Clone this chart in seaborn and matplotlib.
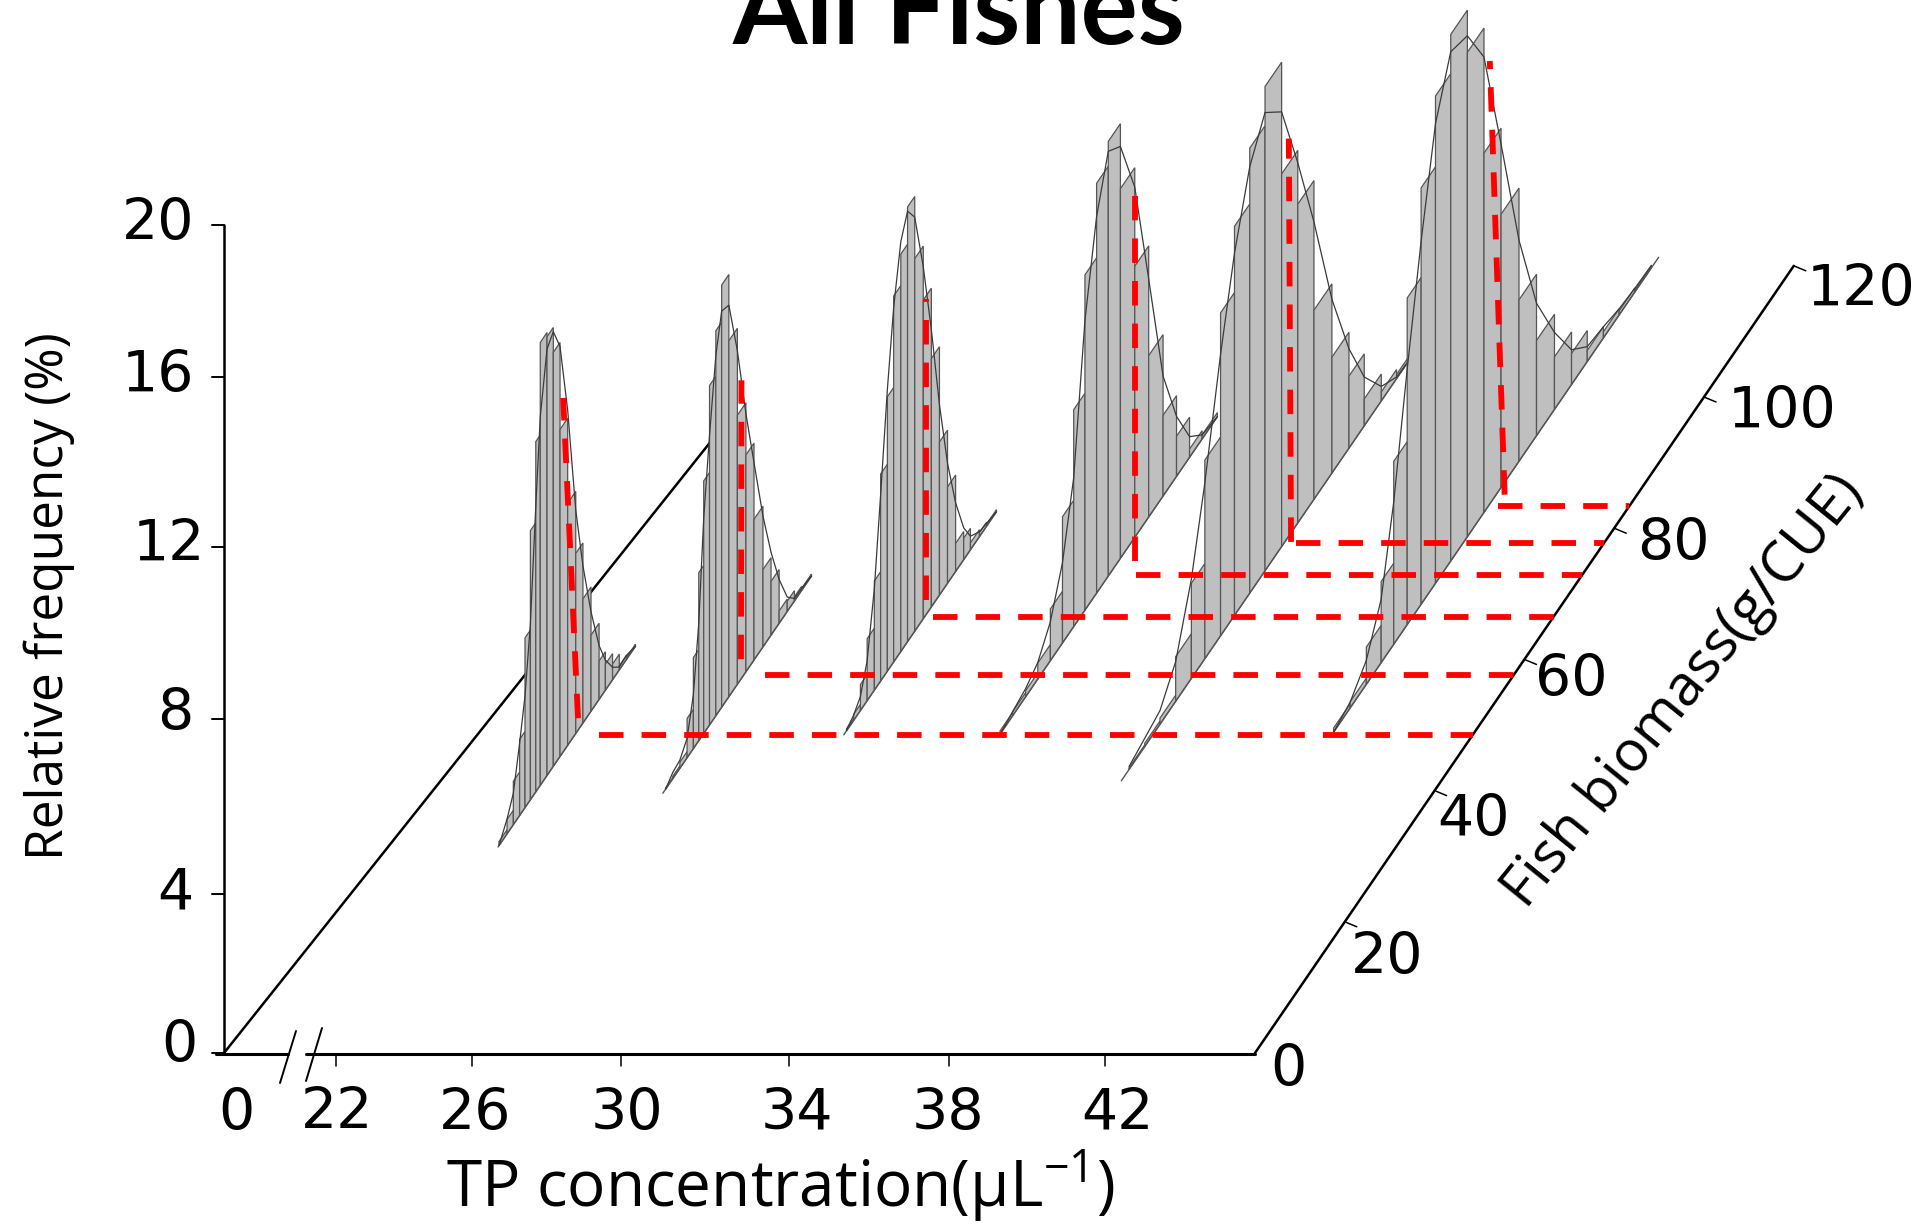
import numpy as np
import pandas as pd
import matplotlib
matplotlib.use("Agg")
import matplotlib.pyplot as plt
import seaborn as sns

# one ridge per TP level
RIDGE_TP = [22.63, 26.35, 30.12, 33.83, 37.65, 42.24]
BASE_START = [31.4, 39.6, 48.5, 48.2, 41.5, 48.9]
BASE_END = [62.0, 72.7, 82.5, 97.0, 105.8, 121.3]

EDGES_1 = [31.6, 33.4, 34.8, 36.2, 37.4, 38.6, 39.8, 40.8, 42.3, 43.7, 45.2, 46.9, 48.7, 50.3, 52.1, 53.9, 55.3, 56.9, 58.4, 60.0, 62.0]
FREQ_1 = [0.1, 0.35, 1.05, 1.84, 4.1, 6.5, 8.46, 10.7, 10.6, 10.0, 7.9, 5.85, 4.35, 3.0, 1.84, 0.93, 0.63, 0.38, 0.1, 0.05]
FIT_1 = [0, 0.36, 0.76, 1.75, 2.7, 4.25, 6.9, 8.9, 10.3, 10.5, 9.9, 8.1, 5.4, 3.8, 2.4, 1.3, 0.73, 0.3, 0.07, 0.1, 0]

EDGES_2 = [40.2, 41.8, 43.4, 45.0, 46.4, 47.6, 48.7, 50.0, 51.4, 52.7, 54.3, 56.2, 58.1, 59.9, 61.9, 63.7, 65.5, 67.3, 68.9, 70.5, 72.7]
FREQ_2 = [0.03, 0.06, 0.15, 0.95, 2.2, 4.06, 6.1, 8.2, 9.3, 10.2, 8.6, 6.5, 5.24, 3.4, 1.87, 1.3, 0.3, 0.25, 0.1, 0.05]
FIT_2 = [0, 0.15, 0.2, 0.47, 1.3, 2.84, 5.2, 7.0, 8.7, 9.57, 9.46, 8.06, 6.24, 4.77, 3.16, 2.0, 1.06, 0.35, 0.06, 0.05, 0]

EDGES_3 = [49.1, 50.7, 52.2, 53.7, 55.3, 56.7, 58.2, 59.6, 61.2, 62.7, 64.3, 66.2, 68.0, 69.8, 71.6, 73.4, 75.2, 76.7, 78.7, 80.3, 82.5]
FREQ_3 = [0.05, 0.15, 0.63, 1.5, 2.64, 5.0, 6.63, 8.84, 9.6, 10.5, 9.0, 7.7, 6.0, 3.7, 2.33, 0.68, 0.52, 0.17, 0.1, 0.05]
FIT_3 = [0.02, 0.13, 0.34, 0.97, 2.45, 4.5, 6.8, 8.56, 9.9, 10.4, 10.0, 8.5, 6.7, 4.6, 2.9, 1.66, 0.77, 0.33, 0.12, 0.07, 0]

EDGES_4 = [48.6, 51.4, 54.3, 57.0, 59.8, 62.5, 65.0, 67.5, 70.1, 72.7, 75.4, 78.6, 81.7, 84.9, 87.9, 90.8, 93.6, 97.0]
FREQ_4 = [0.08, 0.1, 0.15, 0.39, 1.25, 3.05, 5.24, 8.1, 9.9, 10.5, 8.93, 6.55, 3.9, 1.95, 0.97, 0.2, 0.1]
FIT_4 = [0, 0.1, 0.2, 0.4, 0.94, 1.94, 3.6, 7.0, 9.1, 10.26, 9.95, 8.46, 5.75, 2.9, 1.45, 0.5, 0.1, 0]

EDGES_5 = [43.2, 46.7, 50.1, 53.6, 57.1, 60.1, 63.6, 66.7, 70.1, 73.5, 77.2, 80.8, 84.4, 88.4, 92.2, 95.6, 99.4, 102.8, 105.8]
FREQ_5 = [0.04, 0.08, 0.15, 1.08, 2.3, 4.8, 7.8, 9.4, 10.75, 11.7, 9.0, 7.7, 4.57, 2.8, 1.74, 0.65, 0.22, 0.1]
FIT_5 = [0.07, 0.2, 0.33, 0.96, 2.4, 4.25, 6.8, 8.75, 10.3, 11.07, 10.5, 8.7, 6.7, 4.2, 2.4, 1.18, 0.35, 0.04, 0]

EDGES_6 = [48.9, 52.6, 56.2, 59.5, 62.3, 65.3, 68.4, 71.6, 75.0, 78.7, 82.4, 86.2, 90.2, 94.1, 98.1, 101.9, 105.4, 109.0, 112.5, 116.0, 119.7]
FREQ_6 = [0.1, 0.15, 0.9, 1.96, 4.42, 7.89, 10.06, 11.77, 12.72, 11.7, 8.68, 6.6, 3.9, 2.3, 1.27, 0.75, 0.27, 0.15, 0.1, 0.05]
FIT_6 = [0, 0.14, 0.58, 1.53, 3.44, 6.17, 8.77, 11.1, 12.3, 12.1, 11.0, 8.3, 5.34, 3.2, 1.86, 0.84, 0.36, 0.27, 0.15, 0.09, 0.06]

# dashed mean markers
MEAN_BIOMASS = [48.5, 57.6, 66.5, 72.8, 77.7, 83.4]
GUIDE_START_TP = [23.33, 26.91, 30.33, 34.5, 37.95, 42.49]
MARK_BIOMASS_LOW = [49.2, 57.0, 66.8, 78.6, 79.3, 87.0]
MARK_BIOMASS_TOP = [45.9, 57.1, 66.8, 78.6, 78.8, 83.7]
MARK_FREQ_LOW = [0.29, 0.48, 0.36, -0.57, -0.22, -0.3]
MARK_FREQ_TOP = [8.55, 7.2, 7.63, 8.25, 9.6, 10.7]

TP_TICKS = [22, 26, 30, 34, 38, 42]
BIOMASS_TICKS = [0, 20, 40, 60, 80, 100, 120]
FREQ_TICKS = [0, 4, 8, 12, 16, 20]

# layout in pixels of the 1920x1225 canvas
TP_SCALE_IN = [22, 26, 30, 34, 38, 42, 46]
TP_SCALE_PX = [335.6, 472, 621, 789, 949, 1105, 1255]
FLOOR_Y = 1053
BIOMASS_DX = 4.49
BIOMASS_DY = 6.56
FREQ_DY = 41.4
FREQ_TICK_Y = [1053, 894, 719, 547, 377, 225]


def project(tp, biomass, freq):
    x = np.interp(tp, TP_SCALE_IN, TP_SCALE_PX) + np.asarray(biomass) * BIOMASS_DX
    y = FLOOR_Y - np.asarray(biomass) * BIOMASS_DY - np.asarray(freq) * FREQ_DY
    return x, y


sns.set_style("white")
plt.rcParams["font.family"] = ["Open Sans", "DejaVu Sans"]
plt.rcParams["text.color"] = "black"
plt.rcParams["mathtext.fontset"] = "custom"
plt.rcParams["mathtext.rm"] = "Open Sans"

fig = plt.figure(figsize=(19.2, 12.25), dpi=100)
ax = fig.add_axes([0, 0, 1, 1])
ax.set_xlim(0, 1920)
ax.set_ylim(1225, 0)
ax.axis("off")


def draw_line(xs, ys, color="black", lw=1.5, z=2, **kw):
    data = pd.DataFrame({"x": xs, "y": ys})
    sns.lineplot(data=data, x="x", y="y", ax=ax, color=color, lw=lw, zorder=z,
                 estimator=None, sort=False, legend=False, **kw)


# axes frame
draw_line([224, 224], [225, 1053], lw=1.8)
draw_line([224, 712], [1053, 440], lw=1.8)
draw_line([216, 288], [1054, 1054], lw=2.2)
draw_line([306, 1255], [1054, 1054], lw=2.2)
draw_line([280, 296], [1083, 1031], lw=1.4)
draw_line([306, 322], [1081, 1028], lw=1.4)
bx, by = project(46, np.array([0, 120]), 0)
draw_line(bx, by, lw=1.8)

for tp in TP_TICKS:
    px = np.interp(tp, TP_SCALE_IN, TP_SCALE_PX)
    draw_line([px, px], [1054, 1066], lw=1.1)
for b in BIOMASS_TICKS[1:]:
    px, py = project(46, b, 0)
    draw_line([px, px + 12], [py, py + 5], lw=1.1)
for py in FREQ_TICK_Y:
    draw_line([212, 224], [py, py], lw=1.4)

# ridges, back to front by TP so the later ones sit on top
all_edges = [EDGES_1, EDGES_2, EDGES_3, EDGES_4, EDGES_5, EDGES_6]
all_freq = [FREQ_1, FREQ_2, FREQ_3, FREQ_4, FREQ_5, FREQ_6]
all_fit = [FIT_1, FIT_2, FIT_3, FIT_4, FIT_5, FIT_6]

for i, tp in enumerate(RIDGE_TP):
    edges = all_edges[i]
    z = 3 + i
    for left, right, h in zip(edges[:-1], edges[1:], all_freq[i]):
        xa, ya = project(tp, left, 0)
        xb, yb = project(tp, right, 0)
        xc, yc = project(tp, right, h)
        xd, yd = project(tp, left, h)
        ax.fill([xa, xb, xc, xd], [ya, yb, yc, yd], facecolor="#bfbfbf",
                edgecolor="#555555", lw=0.9, zorder=z)
    xs, ys = project(tp, np.array([BASE_START[i], BASE_END[i]]), 0)
    draw_line(xs, ys, color="#555555", lw=1, z=z)
    xs, ys = project(tp, np.array(edges), np.array(all_fit[i]))
    draw_line(xs, ys, color="#3a3a3a", lw=0.9, z=z)

# red mean markers and guides to the biomass axis
dash = (0, (4.2, 3.1))
for i, tp in enumerate(RIDGE_TP):
    xs, ys = project(tp, np.array([MARK_BIOMASS_LOW[i], MARK_BIOMASS_TOP[i]]),
                     np.array([MARK_FREQ_LOW[i], MARK_FREQ_TOP[i]]))
    ax.plot(xs, ys, color="#ff0000", lw=4.2, ls=dash, dash_capstyle="butt", zorder=12)
    x0, y0 = project(GUIDE_START_TP[i], MEAN_BIOMASS[i], 0)
    x1, y1 = project(46, MEAN_BIOMASS[i], 0)
    ax.plot([x0, x1], [y0, y1], color="#ff0000", lw=4.2, ls=dash, dash_capstyle="butt", zorder=12)

# texts
num = dict(family="DejaVu Sans", fontsize=41, ha="center", va="center", color="black")
for label, x in zip([0] + TP_TICKS, [236, 337, 475, 627, 797, 948, 1117]):
    ax.text(x, 1114, str(label), **num)
for label, x, y in zip(BIOMASS_TICKS, [1288, 1387, 1474, 1571, 1673, 1782, 1861],
                       [1071, 958, 820, 681, 545, 413, 290]):
    ax.text(x, y, str(label), **num)
for label, x, y in zip(FREQ_TICKS, [179, 175, 175, 169, 158, 158],
                       [1047, 894, 714, 545, 377, 225]):
    ax.text(x, y, str(label), **num)

ax.text(959, 44, "All Fishes", family="Lato", fontweight="bold", fontsize=77,
        ha="center", va="baseline", color="black")
ax.text(780, 1186, r"TP concentration(µL$^{-1}$)", fontsize=46, ha="center", va="center")
ax.text(49, 596, "Relative frequency (%)", fontsize=37, rotation=90, ha="center", va="center")
ax.text(1684, 692, "Fish biomass(g/CUE)", fontsize=41, rotation=51, ha="center", va="center",
        rotation_mode="anchor")

fig.savefig("out.png", dpi=100)
plt.close(fig)
